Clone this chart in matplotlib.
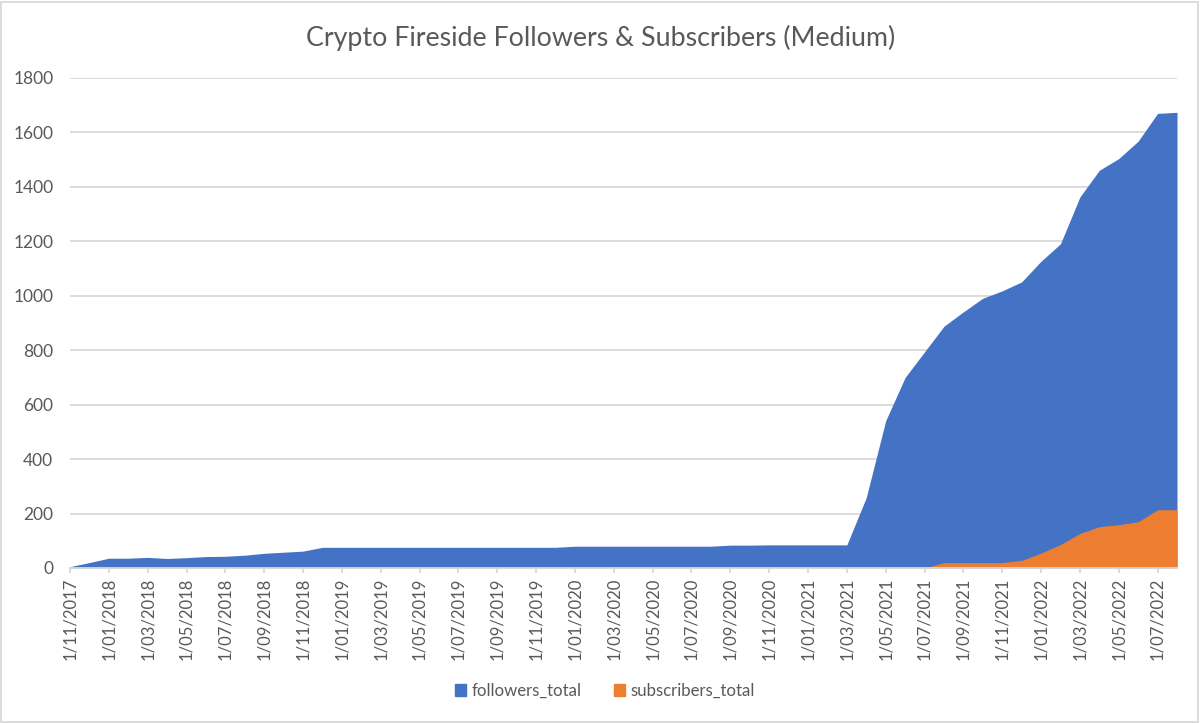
import matplotlib
matplotlib.use("Agg")
import matplotlib.pyplot as plt
from matplotlib.patches import Patch, Rectangle
import pandas as pd

plt.rcParams['font.family'] = ['Lato', 'DejaVu Sans']

months = pd.date_range("2017-11-01", "2022-08-01", freq="MS")
tick_labels = [f"1/{d.month:02d}/{d.year}" for d in months]

followers_total = [5, 20, 36, 36, 39, 35, 38, 42, 43, 47, 54, 58, 62, 76,
                   76, 76, 76, 76, 76, 76, 76, 76, 76, 76, 76, 76,
                   80, 80, 80, 80, 80, 80, 80, 80,
                   84, 84, 85, 85, 85, 85, 85,
                   259, 541, 700, 794, 888, 941, 991, 1018, 1051, 1127, 1191,
                   1363, 1461, 1504, 1568, 1670, 1674]
subscribers_total = [0] * 44 + [0, 20, 20, 20, 20, 28, 55, 86, 127, 152, 159, 170, 214, 214]
subscribers_total = subscribers_total[:len(months)]

BLUE = "#4472C4"
ORANGE = "#ED7D31"
TXT = "#595959"
GRID = "#D9D9D9"

fig = plt.figure(figsize=(12.01, 7.23), dpi=100)
ax = fig.add_axes([70 / 1201, 1 - 568 / 723, (1177 - 70) / 1201, (568 - 78) / 723])

x = list(range(len(months)))
ax.fill_between(x, 0, followers_total, color=BLUE, linewidth=0, zorder=2)
ax.fill_between(x, 0, subscribers_total, color=ORANGE, linewidth=0, zorder=3)

ax.set_xlim(0, len(months) - 1)
ax.set_ylim(0, 1800)
ax.set_yticks(range(0, 1801, 200))
ax.yaxis.grid(True, color=GRID, linewidth=1.3, zorder=0)
ax.set_axisbelow(True)

ax.set_xticks(x[::2])
ax.set_xticklabels(tick_labels[::2], rotation=90, fontsize=12, color=TXT)
ax.tick_params(axis='x', length=3.6, color=GRID, width=1.3, pad=3)
ax.tick_params(axis='y', length=0, labelsize=12.5, labelcolor=TXT, pad=12)

for s in ['top', 'right', 'left']:
    ax.spines[s].set_visible(False)
ax.spines['bottom'].set_color(GRID)
ax.spines['bottom'].set_linewidth(1.3)
ax.spines['bottom'].set_zorder(4)

fig.text(0.5, 1 - 38 / 723, "Crypto Fireside Followers & Subscribers (Medium)",
         ha='center', va='center', fontsize=19.3, color=TXT)

handles = [Patch(color=BLUE, label="followers_total"),
           Patch(color=ORANGE, label="subscribers_total")]
fig.legend(handles=handles, loc='center', bbox_to_anchor=(605 / 1201, 1 - 691 / 723),
           ncol=2, frameon=False, fontsize=12.1, labelcolor=TXT,
           handlelength=0.65, handleheight=0.65, handletextpad=0.35, columnspacing=1.9)

fig.patches.append(Rectangle((1 / 1201, 1 / 723), 1197 / 1201, 720 / 723,
                             transform=fig.transFigure, fill=False,
                             edgecolor=GRID, linewidth=1.3))

fig.savefig("out.png", dpi=100, facecolor="white")
